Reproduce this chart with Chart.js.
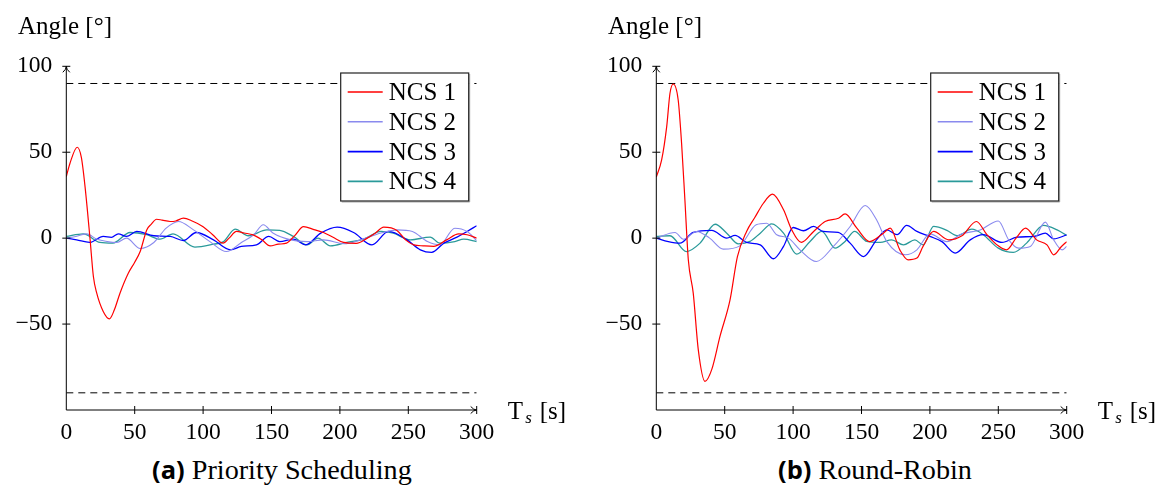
<!DOCTYPE html>
<html><head><meta charset="utf-8">
<script src="https://cdn.jsdelivr.net/npm/chart.js@4/dist/chart.umd.min.js"></script>
<style>
body{margin:0;width:1157px;height:491px;background:#fff;position:relative;overflow:hidden;font-family:"Liberation Serif",serif}
.wrap{position:absolute;top:0;width:567px;height:450px}
#w1{left:0}#w2{left:590px}
.cap{position:absolute;top:452px;font-family:"Liberation Serif",serif;font-size:28.2px;white-space:nowrap;color:#000}
.cap b{font-family:"Open Sans",sans-serif;font-weight:700;font-size:25.5px}
</style></head><body>
<div class="wrap" id="w1"><canvas id="c1"></canvas></div>
<div class="wrap" id="w2"><canvas id="c2"></canvas></div>
<div class="cap" style="left:152px"><b>(a)</b> Priority Scheduling</div>
<div class="cap" style="left:778px"><b>(b)</b> Round-Robin</div>
<script>
// ---- data ----
const seriesNames = ['NCS 1','NCS 2','NCS 3','NCS 4'];
const xTicks = [0,50,100,150,200,250,300];
const yTicks = [-100,-50,0,50,100];
const limitValues = [90,-90];

// (a) Priority Scheduling
const ps1T = [0,2.7,8,11,13.7,17.3,19.8,22.2,27,31.5,35,39.3,45.4,50,54,58.8,62,66,70,75.9,80,85.6,92,100,107,114.6,119,124.4,130,136.6,143,149,155,161,167,173.4,181,188,195,202.7,212,220,226,232,241.7,248,254,261,268.5,278,286.8,293,300];
const ps1Y = [35.8,43.6,52.9,47,30,0,-22.3,-31.9,-42.7,-47,-42,-31.9,-20.3,-14,-7.8,4.8,8,11,10.5,9.7,10,11.6,10,6.7,2,-2.9,0,3.9,3,1.9,-1,-4.5,-3.5,-2.9,1.5,6.7,5,3.3,0.5,-2.5,-3,0,3,6.4,4.5,-1,-3.9,-4.5,-4.8,-1,2.5,2,0];
const ps2T = [0,7,15,22,30,37,44,54,64,73,82,93,105,117,128,137,144,151,164,176,188,203,215,230,242,253,264,273,284,293,300];
const ps2Y = [0,1,2.5,-0.5,-2,-2.5,0,-6,-2.5,5.8,9.7,4.8,-2,-7.8,-2.5,2,7.8,3,-1,-2,-1,-3.3,-1,3,4.8,3.9,-2,-3.9,5.8,3.9,-1.4];
const ps3T = [0,7.6,17,27,33,38,44,51.5,64,76,85.6,95,107.6,120,128,139,148,156,166,175,186,198,210,223.4,235.6,249,258.8,267,276,285.6,293,300];
const ps3Y = [0,-1,-2.5,1,0.5,2.5,1,3.9,1.4,1,-1.4,3.3,-1,-6.8,-4.8,-3.9,1,-2,-0.6,-3.9,2.9,6.4,3.3,-3.9,3.9,-1,-6.8,-8.3,-2.9,0.6,3.9,7.2];
const ps4T = [0,12.4,24.6,34,46.6,58.8,68.5,78,94,107.6,115,123.4,133,146.6,156,166,176,184,193,205,217.4,230,239,251.5,266,273,284,290.5,300];
const ps4Y = [1,2.5,-2.5,-2.9,3.3,2,-0.6,2.5,-5.2,-3.5,-2,5.2,1.4,4.8,4.5,1,-3.9,0,-4.5,-2.5,-0.6,3.9,2.9,-1,0.6,-2.9,-2,-0.6,-2];

// (b) Round-Robin
const rr1T = [0,3.9,7.6,10,12.4,16,18.5,20.9,23.4,27,30.7,35.6,40.5,46.6,53.9,59.3,66,72,78.3,84.9,93,99,106,115,123.4,133.2,138,146.6,156,166,171,178,184,190.5,195,202.7,213.7,223.4,234,241.7,249,256,263,270,278,285.6,290.5,296,300];
const rr1Y = [35.5,45.5,64.9,84.3,89.7,80.4,55,22.3,-12.6,-32,-65,-83.3,-76.5,-57,-35.9,-10.7,3.9,12,20.3,25.6,16.5,4.8,-2.5,3.9,9.7,11.6,14.1,5.8,-2,2.9,5.8,-6.8,-12.6,-11.6,-4.8,3.9,-1,1.4,9.7,2,-3.9,-6.8,0,5.8,-1,-3.9,-9.7,-5,-2];
const rr2T = [0,13.7,19.8,29.5,39,49,61,73,80.7,88,96.6,105,117,129.5,141.7,152.7,161,168.5,182,190.5,200,212.4,223.4,236.8,250,257.6,264.9,273.4,284.4,290.5,296.6,300];
const rr2Y = [0,3.3,-0.6,3.9,0,-6.4,-4.5,7.8,8.7,2,0,-6.8,-13.6,-4.8,6.8,19,10.7,-2,-9.7,-6.8,2.5,-2,2.5,4.8,10,-1,-5.8,-4.8,9.3,-1,-6.8,-4.8];
const rr3T = [0,8.8,17.3,27,40.5,51.5,57.6,66,76,85.6,93,100,107.6,115,122,133,141.7,151.5,161,168.5,176,183,190.5,200,208.8,218.5,229.5,239,252.7,263.7,276,284.4,290.5,300];
const rr3Y = [0,-2,-2.9,3.3,4.5,0,1.6,-2.5,-3.9,-12,-4.8,6.2,4.3,6.8,3.9,3.3,-2.9,-10.7,-1,4.8,2,7.4,3.9,1,-2,-8.7,-1,2,-2.5,0.6,1,2.9,-0.4,1.9];
const rr4T = [0,10,22,32,43,51.5,60,68.5,76,84.4,93,102.6,112.4,121,130.7,138,145,153.9,163.7,172,180.7,189,195,202.7,212.4,219.8,230.7,239,250,261,270.7,283,293,300];
const rr4Y = [1,1.4,-7.8,-2.9,8.1,2.9,-3.3,-1.9,2.9,8.3,2.9,-9.3,-1.9,3.9,-5.8,-1.9,3.9,-1.9,-2.5,-1,-3.9,-1,-3.9,6.8,4.5,1.4,5.2,2,-5.8,-8.3,-2.9,7.4,4.8,1.6];

// ---- styling ----
const colors = ['#ff0000','#8a8aee','#0000ff','#2a9a9a'];
const widths = [1.2,1.1,1.3,1.3];
const SERIF = '"Liberation Serif", serif';

const zip = (t,y) => t.map((v,i)=>({x:v,y:y[i]}));

function makeDatasets(ts, ys){
  const ds = seriesNames.map((n,i)=>({
    label:n, data:zip(ts[i],ys[i]), borderColor:colors[i], borderWidth:widths[i],
    pointRadius:0, tension:0.4, cubicInterpolationMode:'monotone', fill:false
  }));
  limitValues.forEach(v=>ds.push({
    label:'limit', data:[{x:xTicks[0],y:v},{x:xTicks[xTicks.length-1],y:v}],
    borderColor:'#000', borderWidth:1, borderDash:[7,5], pointRadius:0, tension:0
  }));
  return ds;
}

const framePlugin = {
  id:'frame',
  afterDraw(chart){
    const {ctx, chartArea:a, scales:{x,y}} = chart;
    ctx.save();
    ctx.strokeStyle='#000'; ctx.fillStyle='#000'; ctx.lineWidth=1;
    const x0 = x.getPixelForValue(0), yb = y.getPixelForValue(-100);
    const xr = x.getPixelForValue(300), yt = y.getPixelForValue(100);
    // axes
    ctx.beginPath(); ctx.moveTo(x0, yb); ctx.lineTo(x0, yt); ctx.stroke();
    ctx.beginPath(); ctx.moveTo(x0, yb); ctx.lineTo(xr, yb); ctx.stroke();
    // arrows
    ctx.beginPath(); ctx.moveTo(x0-3.5, yt+6); ctx.quadraticCurveTo(x0, yt+3, x0, yt); ctx.quadraticCurveTo(x0, yt+3, x0+3.5, yt+6); ctx.stroke();
    ctx.beginPath(); ctx.moveTo(xr-6, yb-3.5); ctx.quadraticCurveTo(xr-3, yb, xr, yb); ctx.quadraticCurveTo(xr-3, yb, xr-6, yb+3.5); ctx.stroke();
    // ticks
    yTicks.forEach(v=>{ if(v===-100) return; const p=y.getPixelForValue(v); ctx.beginPath(); ctx.moveTo(x0-4,p); ctx.lineTo(x0+4,p); ctx.stroke(); });
    xTicks.forEach(v=>{ if(v===0) return; const p=x.getPixelForValue(v); ctx.beginPath(); ctx.moveTo(p,yb-4); ctx.lineTo(p,yb+4); ctx.stroke(); });
    // axis titles
    ctx.font = '25px '+SERIF; ctx.textBaseline='alphabetic'; ctx.textAlign='left';
    ctx.fillText('Angle [°]', 18, 34);
    ctx.fillText('T', xr+31, yb+9);
    ctx.font = 'italic 17px '+SERIF; ctx.fillText('s', xr+48.5, yb+13);
    ctx.font = '25px '+SERIF; ctx.fillText('[s]', xr+63, yb+9);
    // legend
    const bx = a.right-136, by = a.top+6.7, bw = 128, bh = 128;
    ctx.fillStyle='#fff'; ctx.fillRect(bx,by,bw,bh);
    ctx.strokeStyle='#aaa'; ctx.lineWidth=1; ctx.beginPath(); ctx.moveTo(bx+bw+1,by+1); ctx.lineTo(bx+bw+1,by+bh+1); ctx.lineTo(bx+1,by+bh+1); ctx.stroke();
    ctx.strokeStyle='#222'; ctx.lineWidth=1.2; ctx.strokeRect(bx,by,bw,bh);
    ctx.font='25px '+SERIF; ctx.textBaseline='middle'; ctx.fillStyle='#000';
    chart.data.datasets.forEach((d,i)=>{
      if(d.label==='limit') return;
      const cy = by + 19 + i*29.8;
      ctx.strokeStyle=d.borderColor; ctx.lineWidth=d.borderWidth+0.4;
      ctx.beginPath(); ctx.moveTo(bx+7,cy); ctx.lineTo(bx+42,cy); ctx.stroke();
      ctx.fillText(d.label, bx+48, cy+1.5);
    });
    ctx.restore();
  }
};

function makeChart(id, ts, ys){
  return new Chart(document.getElementById(id), {
    type:'line',
    data:{datasets:makeDatasets(ts,ys)},
    options:{
      responsive:true, maintainAspectRatio:false, animation:false,
      layout:{padding:{left:0,top:66.3,right:90.3,bottom:0}},
      plugins:{legend:{display:false}, tooltip:{enabled:false}},
      scales:{
        x:{type:'linear', min:0, max:300, afterFit:s=>{s.height=40;},
           afterBuildTicks:s=>{s.ticks=xTicks.map(v=>({value:v}));},
           grid:{display:false, drawTicks:false}, border:{display:false},
           ticks:{color:'#000', font:{family:SERIF,size:23.5}, padding:9, maxRotation:0, autoSkip:false}},
        y:{type:'linear', min:-100, max:100, afterFit:s=>{s.width=66.3;},
           afterBuildTicks:s=>{s.ticks=yTicks.map(v=>({value:v}));},
           grid:{display:false, drawTicks:false}, border:{display:false},
           ticks:{color:'#000', font:{family:SERIF,size:23.5}, padding:14,
             callback:v=> v===-100 ? '' : (v<0 ? '\u2212'+Math.abs(v) : String(v))}}
      }
    },
    plugins:[framePlugin]
  });
}

makeChart('c1',[ps1T,ps2T,ps3T,ps4T],[ps1Y,ps2Y,ps3Y,ps4Y]);
makeChart('c2',[rr1T,rr2T,rr3T,rr4T],[rr1Y,rr2Y,rr3Y,rr4Y]);
</script>
</body></html>
